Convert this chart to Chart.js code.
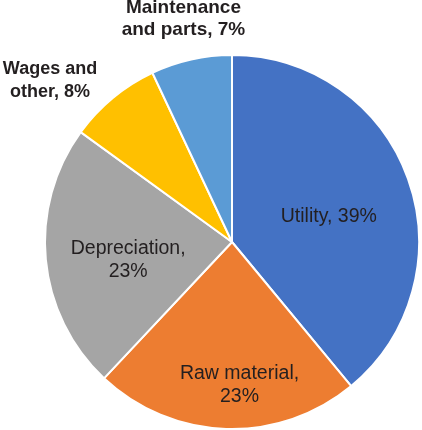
<!DOCTYPE html>
<html>
<head>
<meta charset="utf-8">
<script src="https://cdn.jsdelivr.net/npm/chart.js@4"></script>
<style>
  html, body { margin: 0; padding: 0; background: #ffffff; }
  #wrap { width: 422px; height: 430px; }
</style>
</head>
<body>
<div id="wrap"><canvas id="chartCost"></canvas></div>
<script>
const categories = ['Utility', 'Raw material', 'Depreciation', 'Wages and other', 'Maintenance and parts'];
const shares = [39, 23, 23, 8, 7];
const colors = ['#4472C4', '#ED7D31', '#A5A5A5', '#FFC000', '#5B9BD5'];
// how each label is printed: lines, distance from centre (fraction of radius), tweak, font
const labelLines = [
  ['Utility, 39%'],
  ['Raw material,', '23%'],
  ['Depreciation,', '23%'],
  ['Wages and', 'other, 8%'],
  ['Maintenance', 'and parts, 7%'],
];
const labelRadius = [0.55, 0.76, 0.59, 1.3, 1.19];
const labelShift = [[0, 9], [12, 1], [6, 7.5], [-27, 26], [0, -6]];
const labelFont = [
  '19.5px "Liberation Sans", Arial, sans-serif',
  '19.5px "Liberation Sans", Arial, sans-serif',
  '19.5px "Liberation Sans", Arial, sans-serif',
  'bold 18px "Liberation Sans", Arial, sans-serif',
  'bold 19px "Liberation Sans", Arial, sans-serif',
];

const sliceLabels = {
  id: 'sliceLabels',
  afterDatasetsDraw(chart) {
    const ctx = chart.ctx;
    const arcs = chart.getDatasetMeta(0).data;
    ctx.save();
    ctx.fillStyle = '#231F20';
    ctx.textAlign = 'center';
    ctx.textBaseline = 'middle';
    arcs.forEach((arc, i) => {
      const { x, y, startAngle, endAngle, outerRadius } = arc.getProps(['x', 'y', 'startAngle', 'endAngle', 'outerRadius'], true);
      const mid = (startAngle + endAngle) / 2;
      const r = outerRadius * labelRadius[i];
      const cx = x + Math.cos(mid) * r + labelShift[i][0];
      const cy = y + Math.sin(mid) * r + labelShift[i][1];
      ctx.font = labelFont[i];
      const lh = 22.5;
      const lines = labelLines[i];
      lines.forEach((t, k) => {
        ctx.fillText(t, cx, cy + (k - (lines.length - 1) / 2) * lh);
      });
    });
    ctx.restore();
  },
};

new Chart(document.getElementById('chartCost'), {
  type: 'pie',
  data: {
    labels: categories,
    datasets: [{
      data: shares,
      backgroundColor: colors,
      borderColor: '#ffffff',
      borderWidth: 2,
    }],
  },
  options: {
    responsive: true,
    maintainAspectRatio: false,
    animation: false,
    layout: { padding: { left: 44, right: 2, top: 54, bottom: 0 } },
    plugins: {
      legend: { display: false },
      tooltip: { enabled: false },
    },
  },
  plugins: [sliceLabels],
});
</script>
</body>
</html>
